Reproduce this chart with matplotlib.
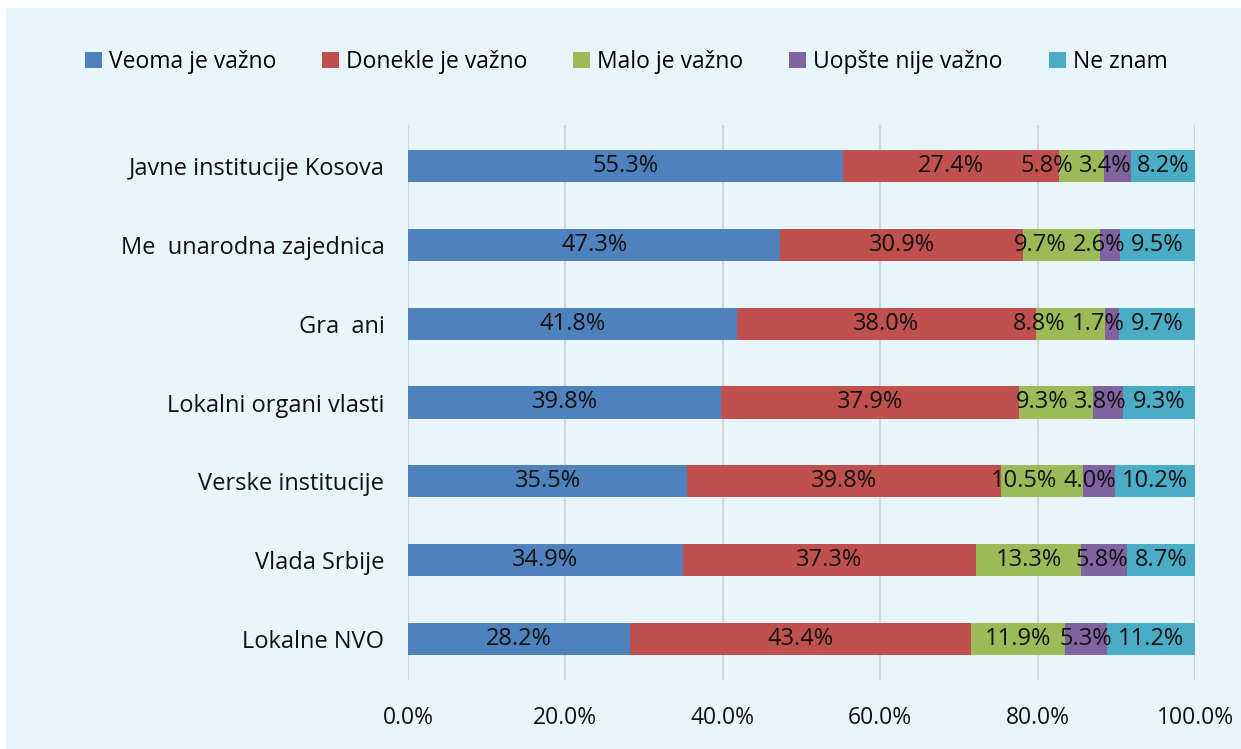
import matplotlib.pyplot as plt
from matplotlib.patches import Rectangle
from matplotlib.ticker import FuncFormatter

plt.rcParams['font.family'] = ['Open Sans', 'DejaVu Sans']

# data (percent), rows listed top to bottom
categories = ["Javne institucije Kosova", "Me  unarodna zajednica", "Gra  ani",
              "Lokalni organi vlasti", "Verske institucije", "Vlada Srbije",
              "Lokalne NVO"]
series_names = ["Veoma je važno", "Donekle je važno", "Malo je važno",
                "Uopšte nije važno", "Ne znam"]
veoma = [55.3, 47.3, 41.8, 39.8, 35.5, 34.9, 28.2]
donekle = [27.4, 30.9, 38.0, 37.9, 39.8, 37.3, 43.4]
malo = [5.8, 9.7, 8.8, 9.3, 10.5, 13.3, 11.9]
uopste = [3.4, 2.6, 1.7, 3.8, 4.0, 5.8, 5.3]
ne_znam = [8.2, 9.5, 9.7, 9.3, 10.2, 8.7, 11.2]

series = [veoma, donekle, malo, uopste, ne_znam]
colors = ["#4f81bd", "#c0504d", "#9bbb59", "#8064a2", "#4bacc6"]
bg = "#e8f5fb"

fig = plt.figure(figsize=(12.41, 7.49), dpi=100)
fig.patch.set_facecolor('white')
# light blue panel behind everything
fig.patches.append(Rectangle((6 / 1241, 0), 1, 1 - 8 / 749, transform=fig.transFigure,
                             facecolor=bg, edgecolor='none', zorder=-10))

ax = fig.add_axes([408 / 1241, 69 / 749, 787 / 1241, 555 / 749])
ax.set_facecolor(bg)
ax.patch.set_alpha(0)

ypos = list(range(len(categories)))
left = [0.0] * len(categories)
row_texts = [[] for _ in categories]
for name, vals, col in zip(series_names, series, colors):
    bars = ax.barh(ypos, vals, left=left, height=0.41, color=col, label=name, zorder=3)
    for i, (rect, v) in enumerate(zip(bars, vals)):
        cx = rect.get_x() + rect.get_width() / 2
        cy = rect.get_y() + rect.get_height() / 2
        t = ax.text(cx, cy, f"{v:.1f}%", ha='center', va='center', fontsize=17,
                    color='#111111', zorder=4)
        row_texts[i].append(t)
    left = [l + v for l, v in zip(left, vals)]

ax.set_xlim(0, 100)
ax.set_ylim(len(categories) - 0.48, -0.52)
ax.set_xticks(range(0, 101, 20))
ax.xaxis.set_major_formatter(FuncFormatter(lambda x, p: f"{x:.1f}%"))
ax.set_yticks(ypos)
ax.set_yticklabels(categories)
ax.tick_params(axis='both', length=0, labelsize=17, colors='#111111')
ax.tick_params(axis='x', labelsize=16.5, pad=19)
ax.tick_params(axis='y', pad=17)
ax.grid(axis='x', color='#d4d6d8', linewidth=1.5, zorder=0)
for s in ax.spines.values():
    s.set_visible(False)

# push labels leftwards from the bar end so they don't collide
fig.canvas.draw()
rend = fig.canvas.get_renderer()
px_per_unit = ax.transData.transform((1, 0))[0] - ax.transData.transform((0, 0))[0]
gap = 6 / px_per_unit
for texts in row_texts:
    widths = [t.get_window_extent(rend).width / px_per_unit for t in texts]
    xs = [t.get_position()[0] for t in texts]
    limit = 100.0 + gap
    for j in range(len(texts) - 1, -1, -1):
        right = min(xs[j] + widths[j] / 2, limit - gap)
        xs[j] = right - widths[j] / 2
        limit = xs[j] - widths[j] / 2
        texts[j].set_x(xs[j])

handles, labels = ax.get_legend_handles_labels()
fig.legend(handles, labels, loc='center', bbox_to_anchor=(626 / 1241, 1 - 62 / 749),
           ncol=5, frameon=False, fontsize=16.5, handlelength=0.75, handleheight=0.75,
           handletextpad=0.3, columnspacing=2.0)

plt.savefig('out.png', dpi=100, facecolor=fig.get_facecolor())
